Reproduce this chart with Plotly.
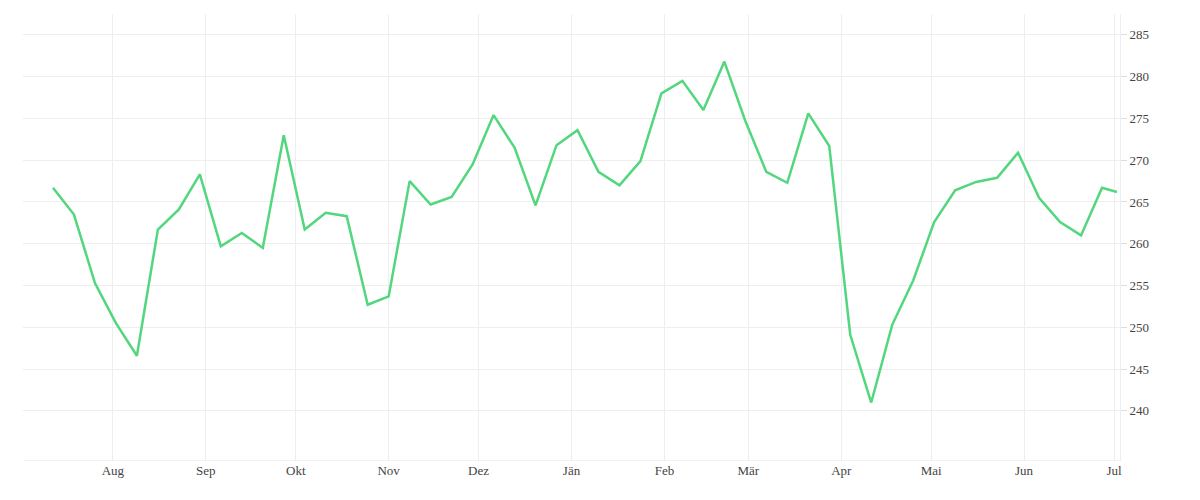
import pandas as pd
import plotly.graph_objects as go

# weekly values, Jul 2018 - Jul 2019
start_date = "2018-07-12"
last_date = "2019-07-02"
values = [
    266.7, 263.5, 255.3, 250.5, 246.6, 261.7, 264.1, 268.3, 259.7, 261.3,
    259.5, 273.0, 261.7, 263.7, 263.3, 252.7, 253.7, 267.5, 264.7, 265.6,
    269.5, 275.4, 271.5, 264.6, 271.8, 273.6, 268.6, 267.0, 269.9, 278.0,
    279.5, 276.0, 281.8, 274.7, 268.6, 267.3, 275.6, 271.7, 249.1, 241.0,
    250.3, 255.6, 262.6, 266.4, 267.4, 267.9, 270.9, 265.5, 262.6, 261.0,
    266.7, 266.2,
]
month_ticks = pd.date_range("2018-08-01", "2019-07-01", freq="MS")
month_labels = ["Aug", "Sep", "Okt", "Nov", "Dez", "Jän", "Feb", "Mär", "Apr", "Mai", "Jun", "Jul"]

dates = list(pd.date_range(start_date, periods=len(values) - 1, freq="7D")) + [pd.Timestamp(last_date)]

fig = go.Figure(go.Scatter(x=dates, y=values, mode="lines",
                           line=dict(color="#52d67e", width=2.5)))
fig.update_layout(
    width=1200, height=500, margin=dict(l=15, r=88, t=6, b=47),
    plot_bgcolor="white", paper_bgcolor="white", showlegend=False,
    font=dict(family="Liberation Serif", size=13, color="#444"),
    xaxis=dict(range=["2018-07-02", "2019-07-03"], tickvals=month_ticks, ticktext=month_labels,
               showgrid=True, gridcolor="#eeeeee", zeroline=False, showline=False),
    yaxis=dict(side="right", range=[234, 287.5], tickvals=[240, 245, 250, 255, 260, 265, 270, 275, 280, 285],
               showgrid=True, gridcolor="#eeeeee", zeroline=False, showline=True, linecolor="#eeeeee",
               ticks="outside", ticklen=6, tickcolor="#dddddd"),
)
fig.add_hline(y=234, line_color="#e6e6e6", line_width=1)
fig.write_html("out.html")
